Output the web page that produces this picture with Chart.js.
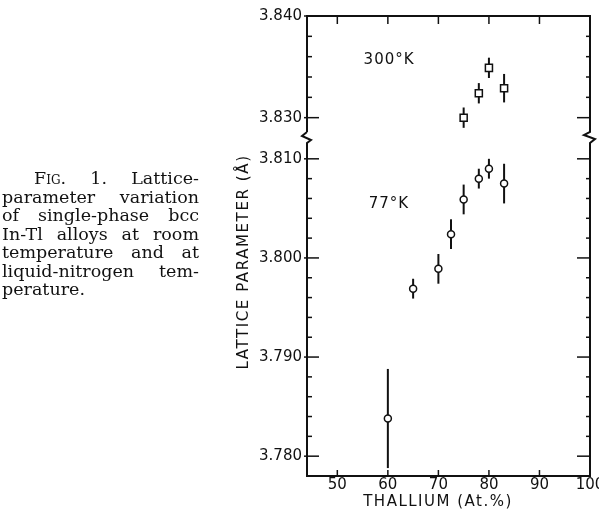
<!DOCTYPE html>
<html>
<head>
<meta charset="utf-8">
<title>Lattice parameter of In-Tl alloys</title>
<script src="https://cdn.jsdelivr.net/npm/chart.js@4.4.1/dist/chart.umd.min.js"></script>
<style>
    html, body { margin: 0; padding: 0; background: #fff; }
    #wrap { position: relative; width: 599px; height: 510px; overflow: hidden; }
    #chart { position: absolute; left: 0; top: 0; }
    #caption {
        position: absolute; left: 2px; top: 169px; width: 197px;
        font: 17.5px 'DejaVu Serif', serif; line-height: 18.5px; color: #111;
    }
    #caption div { text-align: justify; text-align-last: justify; white-space: nowrap; }
    #caption div.last { text-align-last: left; }
    .sc { font-variant: small-caps; }
</style>
</head>
<body>
<div id="wrap">
    <canvas id="chart" width="599" height="510"></canvas>
    <div id="caption">
        <div style="padding-left:32px">F<span class="sc">ig</span>. 1. Lattice-</div>
        <div>parameter variation</div>
        <div>of single-phase bcc</div>
        <div>In-Tl alloys at room</div>
        <div>temperature and at</div>
        <div>liquid-nitrogen tem-</div>
        <div class="last">perature.</div>
    </div>
</div>
<script>
// Data (Tl at.% vs lattice parameter in Angstrom)
const thallium77 = [60, 65, 70, 72.5, 75, 78, 80, 83];
const lattice77 = [3.7838, 3.7969, 3.7989, 3.8024, 3.8059, 3.8080, 3.8090, 3.8075];
const error77 = [0.005, 0.001, 0.0015, 0.0015, 0.0015, 0.001, 0.001, 0.002];

const thallium300 = [75, 78, 80, 83];
const lattice300 = [3.8300, 3.8324, 3.8349, 3.8329];
const error300 = [0.001, 0.001, 0.001, 0.0014];

// Tick marks and labels
const xTicks = [50, 60, 70, 80, 90, 100];
const yTicksLow = [3.780, 3.782, 3.784, 3.786, 3.788, 3.790, 3.792, 3.794, 3.796, 3.798,
                   3.800, 3.802, 3.804, 3.806, 3.808, 3.810];
const yTicksHigh = [3.830, 3.832, 3.834, 3.836, 3.838, 3.840];
const yLabels = ['3.780', '3.790', '3.800', '3.810', '3.830', '3.840'];

const INK = '#111';
const LABEL_FONT = { family: 'DejaVu Sans', size: 15 };

function isMajor(v) {
    return yLabels.includes(v.toFixed(3));
}

function line(ctx, x1, y1, x2, y2) {
    ctx.beginPath();
    ctx.moveTo(x1, y1);
    ctx.lineTo(x2, y2);
    ctx.stroke();
}

// Error bars, frame with axis break, inward ticks and the texts
const framePlugin = {
    id: 'frame',
    beforeDatasetsDraw(chart) {
        const ctx = chart.ctx;
        ctx.save();
        ctx.strokeStyle = INK;
        ctx.lineWidth = 2;
        chart.data.datasets.forEach((ds, i) => {
            const meta = chart.getDatasetMeta(i);
            const yScale = chart.scales[ds.yAxisID];
            meta.data.forEach((pt, j) => {
                const y = ds.data[j].y;
                const e = ds.errors[j];
                line(ctx, pt.x, yScale.getPixelForValue(y + e), pt.x, yScale.getPixelForValue(y - e));
            });
        });
        ctx.restore();
    },
    afterDraw(chart) {
        const ctx = chart.ctx;
        const { left, right, top, bottom } = chart.chartArea;
        const b = chart.scales.yLow.top; // break position
        ctx.save();
        ctx.strokeStyle = INK;
        ctx.fillStyle = INK;

        // frame
        ctx.lineWidth = 2;
        ctx.lineJoin = 'miter';
        ctx.beginPath();
        ctx.moveTo(left, b - 6);
        ctx.lineTo(left, top);
        ctx.lineTo(right, top);
        ctx.lineTo(right, b - 6);
        ctx.lineTo(right - 6, b - 3);
        ctx.lineTo(right + 5, b + 1);
        ctx.lineTo(right, b + 5);
        ctx.lineTo(right, bottom);
        ctx.lineTo(left, bottom);
        ctx.lineTo(left, b + 5);
        ctx.lineTo(left + 4, b + 2);
        ctx.lineTo(left - 5, b - 2);
        ctx.lineTo(left, b - 6);
        ctx.stroke();

        // y ticks, both sides, pointing inward
        ctx.lineWidth = 1.5;
        [chart.scales.yLow, chart.scales.yHigh].forEach(s => {
            s.ticks.forEach(t => {
                const y = s.getPixelForValue(t.value);
                const major = isMajor(t.value);
                line(ctx, left - (major ? 3 : 0), y, left + (major ? 12 : 5), y);
                line(ctx, right - (major ? 13 : 4), y, right, y);
            });
        });

        // x ticks, top and bottom
        const xs = chart.scales.x;
        xTicks.forEach(v => {
            if (v >= xs.max) return;
            const x = xs.getPixelForValue(v);
            line(ctx, x, top, x, top + 8);
            line(ctx, x, bottom, x, bottom - 6);
        });

        // texts
        ctx.font = '15px "DejaVu Sans"';
        ctx.letterSpacing = '1.5px';
        ctx.textAlign = 'center';
        ctx.textBaseline = 'middle';
        ctx.fillText('THALLIUM (At.%)', 438, 502);

        ctx.save();
        ctx.translate(244, 262);
        ctx.rotate(-Math.PI / 2);
        ctx.letterSpacing = '1.6px';
        ctx.fillText('LATTICE PARAMETER (\u00C5)', 0, 0);
        ctx.restore();

        ctx.letterSpacing = '1px';
        ctx.textAlign = 'left';
        ctx.fillText('300\u00B0K', xs.getPixelForValue(55.2), chart.scales.yHigh.getPixelForValue(3.8357));
        ctx.fillText('77\u00B0K', xs.getPixelForValue(56.2), chart.scales.yLow.getPixelForValue(3.8054));
        ctx.restore();
    }
};

function yAxis(min, max, weight, ticks) {
    return {
        type: 'linear',
        position: 'left',
        stack: 'lattice',
        stackWeight: weight,
        min: min,
        max: max,
        grid: { display: false, drawTicks: false },
        border: { display: false },
        afterBuildTicks: s => { s.ticks = ticks.map(v => ({ value: v })); },
        afterFit: s => { s.width = 57; s.paddingTop = 0; s.paddingBottom = 0; },
        ticks: {
            font: LABEL_FONT,
            color: INK,
            padding: 5,
            autoSkip: false,
            callback: v => (isMajor(v) ? v.toFixed(3) : '')
        }
    };
}

new Chart(document.getElementById('chart'), {
    type: 'scatter',
    data: {
        datasets: [
            {
                label: '300\u00B0K',
                yAxisID: 'yHigh',
                data: thallium300.map((x, i) => ({ x: x, y: lattice300[i] })),
                errors: error300,
                pointStyle: 'rect',
                pointRadius: 5,
                pointBorderWidth: 1.5,
                pointBackgroundColor: '#fff',
                pointBorderColor: INK
            },
            {
                label: '77\u00B0K',
                yAxisID: 'yLow',
                data: thallium77.map((x, i) => ({ x: x, y: lattice77[i] })),
                errors: error77,
                pointStyle: 'circle',
                pointRadius: 3.5,
                pointBorderWidth: 1.5,
                pointBackgroundColor: '#fff',
                pointBorderColor: INK
            }
        ]
    },
    options: {
        responsive: false,
        animation: false,
        layout: { padding: { left: 250, right: 9, top: 16, bottom: 0 } },
        plugins: {
            legend: { display: false },
            tooltip: { enabled: false }
        },
        scales: {
            x: {
                type: 'linear',
                min: 44,
                max: 100,
                grid: { display: false, drawTicks: false },
                border: { display: false },
                afterBuildTicks: s => { s.ticks = xTicks.map(v => ({ value: v })); },
                afterFit: s => { s.height = 34; s.paddingLeft = 0; s.paddingRight = 0; },
                ticks: { font: LABEL_FONT, color: INK, padding: 0, maxRotation: 0, autoSkip: false }
            },
            // the first stacked axis is placed at the bottom
            yLow: yAxis(3.778, 3.8121, 338, yTicksLow),
            yHigh: yAxis(3.828, 3.840, 122, yTicksHigh)
        }
    },
    plugins: [framePlugin]
});
</script>
</body>
</html>
